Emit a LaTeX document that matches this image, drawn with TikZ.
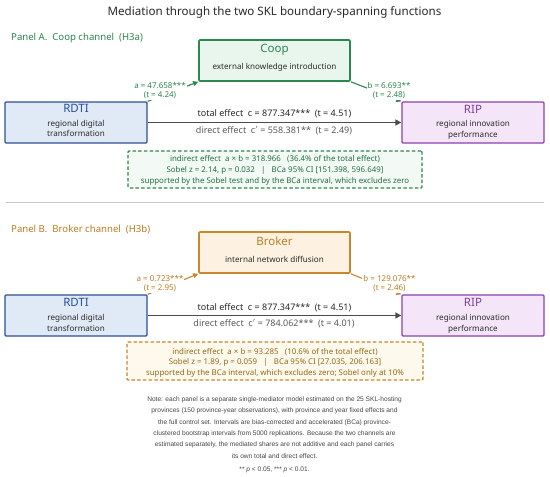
\documentclass[tikz,border=0pt]{standalone}
\usepackage{fontspec}
\setmainfont{Noto Sans}
\newfontfamily\notefont{Liberation Sans}
\usetikzlibrary{arrows.meta}
\definecolor{cgreen}{RGB}{45,135,80}
\definecolor{cgreenfill}{RGB}{233,246,237}
\definecolor{cgreenlight}{RGB}{243,250,245}
\definecolor{cgreentext}{RGB}{35,110,65}
\definecolor{cblue}{RGB}{45,80,150}
\definecolor{cbluefill}{RGB}{224,233,246}
\definecolor{cbluetext}{RGB}{40,80,160}
\definecolor{cpurple}{RGB}{140,65,175}
\definecolor{cpurplefill}{RGB}{244,230,248}
\definecolor{cpurpletext}{RGB}{130,60,160}
\definecolor{corange}{RGB}{200,135,45}
\definecolor{corangefill}{RGB}{253,242,226}
\definecolor{corangelight}{RGB}{254,249,237}
\definecolor{corangetext}{RGB}{190,125,35}
\definecolor{cbrown}{RGB}{150,105,25}
\definecolor{cdark}{RGB}{40,40,40}
\definecolor{cgray}{RGB}{90,90,90}
\definecolor{cline}{RGB}{75,75,75}
\definecolor{cnote}{RGB}{70,70,70}
\definecolor{csep}{RGB}{200,200,200}
\begin{document}
\begin{tikzpicture}[x=1pt,y=-1pt,
  txt/.style={inner sep=0pt, text height=0.72em, text depth=0pt, anchor=center},
  box/.style={draw, line width=1.3pt, minimum width=142pt, minimum height=41pt, inner sep=0pt, rounded corners=1pt},
  medbox/.style={draw, line width=1.6pt, minimum width=151pt, minimum height=41pt, inner sep=0pt, rounded corners=1pt},
  indbox/.style={draw, dashed, dash pattern=on 3.5pt off 2.2pt, line width=1.1pt, inner sep=0pt, rounded corners=1pt},
  big/.style={font=\fontsize{11.5}{13}\selectfont},
  sub/.style={font=\fontsize{8.1}{9}\selectfont, text=cdark},
  eff/.style={font=\fontsize{9}{10}\selectfont},
  lab/.style={font=\fontsize{8}{9.5}\selectfont},
  ind/.style={font=\fontsize{7.9}{9}\selectfont},
  note/.style={font=\notefont\fontsize{6.6}{8}\selectfont, text=cnote},
  path/.style={line width=1.1pt, -{Triangle[length=5pt,width=5pt]}},
  mainarr/.style={line width=1.6pt, draw=cline, -{Triangle[length=6pt,width=6pt]}}
]
\useasboundingbox (0,0) rectangle (550,477);
\fill[white] (0,0) rectangle (550,477);

% title
\node[txt, font=\fontsize{11.6}{13}\selectfont, text=cdark] (title) at (274.5,11.5) {Mediation through the two SKL boundary-spanning functions};

% ================= Panel A
\node[txt, anchor=west, font=\fontsize{9.6}{11}\selectfont, text=cgreen] (pa) at (11,37) {Panel A.\ \ Coop channel\ \ (H3a)};

\node[medbox, draw=cgreen, fill=cgreenfill] (coop) at (274.5,60.5) {};
\node[txt, big, text=cgreen] (coopT) at (274.5,48.5) {Coop};
\node[txt, sub] (coopS) at (274.5,65.5) {external knowledge introduction};

\node[box, draw=cblue, fill=cbluefill] (rdtiA) at (76,122.5) {};
\node[txt, big, text=cbluetext] (rdtiAT) at (76,109) {RDTI};
\node[txt, sub] (rdtiAS1) at (76,122.5) {regional digital};
\node[txt, sub] (rdtiAS2) at (76,133) {transformation};

\node[box, draw=cpurple, fill=cpurplefill] (ripA) at (473,122.5) {};
\node[txt, big, text=cpurpletext] (ripAT) at (473,109.5) {RIP};
\node[txt, sub] (ripAS1) at (473,123) {regional innovation};
\node[txt, sub] (ripAS2) at (473,133.5) {performance};

\draw[mainarr] (rdtiA.east) -- (ripA.west);
\draw[path, draw=cgreen, fill=cgreen] (rdtiA.north east) -- (coop.south west);
\draw[path, draw=cgreen, fill=cgreen] (coop.south east) -- (ripA.north west);

\node[lab, text=cgreen, fill=white, inner sep=1pt, align=center] (aA) at (160,90.5) {a = 47.658***\\(t = 4.24)};
\node[lab, text=cgreen, fill=white, inner sep=1pt, align=center] (bA) at (389,90.5) {b = 6.693**\\(t = 2.48)};

\node[txt, eff, text=cdark] (totA) at (274.5,113) {total effect\ \ c = 877.347***\ \ (t = 4.51)};
\node[txt, eff, text=cgray] (dirA) at (274,129.5) {direct effect\ \ c$'$ = 558.381**\ \ (t = 2.49)};

\node[indbox, draw=cgreen, fill=cgreenlight, minimum width=294pt, minimum height=37pt] (indA) at (275,169.5) {};
\node[txt, ind, text=cgreentext] (indA1) at (275,158) {indirect effect\ \ a × b = 318.966\ \ \ (36.4\% of the total effect)};
\node[txt, ind, text=cgreentext] (indA2) at (275,168.5) {Sobel z = 2.14, p = 0.032\ \ \ |\ \ \ BCa 95\% CI [151.398, 596.649]};
\node[txt, ind, text=cgreentext] (indA3) at (275,179.5) {supported by the Sobel test and by the BCa interval, which excludes zero};

% separator
\draw[csep, line width=0.8pt] (6,202) coordinate (sepL) -- (544,202) coordinate (sepR);

% ================= Panel B
\node[txt, anchor=west, font=\fontsize{9.6}{11}\selectfont, text=corangetext] (pb) at (11,229) {Panel B.\ \ Broker channel\ \ (H3b)};

\node[medbox, draw=corange, fill=corangefill] (broker) at (274.5,252.5) {};
\node[txt, big, text=corangetext] (brokerT) at (274.5,241.5) {Broker};
\node[txt, sub] (brokerS) at (274.5,259) {internal network diffusion};

\node[box, draw=cblue, fill=cbluefill] (rdtiB) at (76,315.5) {};
\node[txt, big, text=cbluetext] (rdtiBT) at (76,303) {RDTI};
\node[txt, sub] (rdtiBS1) at (76,317) {regional digital};
\node[txt, sub] (rdtiBS2) at (76,327.5) {transformation};

\node[box, draw=cpurple, fill=cpurplefill] (ripB) at (473,315.5) {};
\node[txt, big, text=cpurpletext] (ripBT) at (473,302.5) {RIP};
\node[txt, sub] (ripBS1) at (473,317) {regional innovation};
\node[txt, sub] (ripBS2) at (473,327.5) {performance};

\draw[mainarr] (rdtiB.east) -- (ripB.west);
\draw[path, draw=corange, fill=corange] (rdtiB.north east) -- (broker.south west);
\draw[path, draw=corange, fill=corange] (broker.south east) -- (ripB.north west);

\node[lab, text=corangetext, fill=white, inner sep=1pt, align=center] (aB) at (160,283.5) {a = 0.723***\\(t = 2.95)};
\node[lab, text=corangetext, fill=white, inner sep=1pt, align=center] (bB) at (389.5,283.5) {b = 129.076**\\(t = 2.46)};

\node[txt, eff, text=cdark] (totB) at (274.5,307) {total effect\ \ c = 877.347***\ \ (t = 4.51)};
\node[txt, eff, text=cgray] (dirB) at (274,323) {direct effect\ \ c$'$ = 784.062***\ \ (t = 4.01)};

\node[indbox, draw=corange, fill=corangelight, minimum width=296pt, minimum height=38pt] (indB) at (275,361) {};
\node[txt, ind, text=cbrown] (indB1) at (275,351) {indirect effect\ \ a × b = 93.285\ \ \ (10.6\% of the total effect)};
\node[txt, ind, text=cbrown] (indB2) at (275,361) {Sobel z = 1.89, p = 0.059\ \ \ |\ \ \ BCa 95\% CI [27.035, 206.163]};
\node[txt, ind, text=cbrown] (indB3) at (275,371.5) {supported by the BCa interval, which excludes zero; Sobel only at 10\%};

% note
\node[txt, note] (n1) at (274.5,398) {Note: each panel is a separate single-mediator model estimated on the 25 SKL-hosting};
\node[txt, note] (n2) at (274.5,409) {provinces (150 province-year observations), with province and year fixed effects and};
\node[txt, note] (n3) at (274.5,420.5) {the full control set. Intervals are bias-corrected and accelerated (BCa) province-};
\node[txt, note] (n4) at (274.5,432) {clustered bootstrap intervals from 5000 replications. Because the two channels are};
\node[txt, note] (n5) at (274.5,443) {estimated separately, the mediated shares are not additive and each panel carries};
\node[txt, note] (n6) at (274.5,454.5) {its own total and direct effect.};
\node[txt, note] (n7) at (274.5,468) {** \textit{p} < 0.05, *** \textit{p} < 0.01.};
\end{tikzpicture}
\end{document}
